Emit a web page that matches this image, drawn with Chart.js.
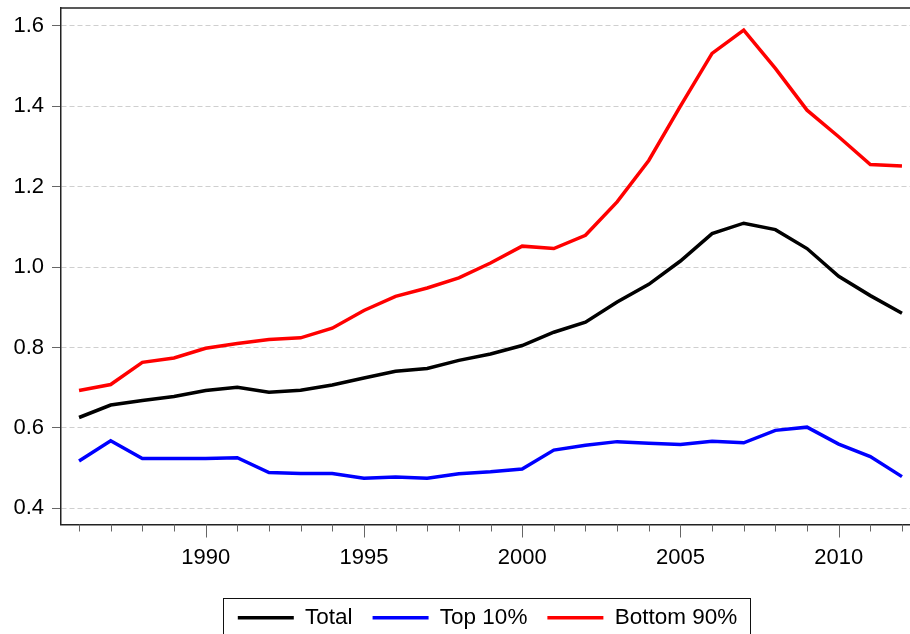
<!DOCTYPE html>
<html>
<head>
<meta charset="utf-8">
<script src="https://cdn.jsdelivr.net/npm/chart.js@4"></script>
<style>
  html, body { margin: 0; padding: 0; background: #fff; overflow: hidden; }
  #wrap { width: 910px; height: 634px; overflow: hidden; }
</style>
</head>
<body>
<div id="wrap"><canvas id="myChart" width="914" height="639"></canvas></div>
<script>
var years = [1986,1987,1988,1989,1990,1991,1992,1993,1994,1995,1996,1997,1998,1999,2000,2001,2002,2003,2004,2005,2006,2007,2008,2009,2010,2011,2012];
var total = [0.626,0.657,0.668,0.678,0.693,0.701,0.689,0.694,0.707,0.724,0.741,0.748,0.768,0.784,0.805,0.838,0.863,0.913,0.957,1.015,1.083,1.109,1.093,1.046,0.977,0.929,0.885];
var top10 = [0.518,0.568,0.524,0.524,0.524,0.526,0.489,0.487,0.487,0.475,0.478,0.475,0.486,0.491,0.498,0.545,0.557,0.566,0.562,0.559,0.567,0.563,0.594,0.602,0.560,0.529,0.479];
var bottom90 = [0.693,0.708,0.763,0.774,0.798,0.810,0.820,0.824,0.848,0.892,0.927,0.948,0.973,1.010,1.052,1.046,1.079,1.162,1.265,1.400,1.531,1.589,1.494,1.390,1.324,1.255,1.251];
var xTickLabels = [1990,1995,2000,2005,2010];
var yTickLabels = [0.4,0.6,0.8,1.0,1.2,1.4,1.6];

var FONT = "Arial, 'Liberation Sans', sans-serif";

function pts(vals) {
  return years.map(function(y, i) { return {x: y, y: vals[i]}; });
}

function line(label, vals, color) {
  return {
    label: label,
    data: pts(vals),
    borderColor: color,
    backgroundColor: color,
    borderWidth: 3.5,
    pointRadius: 0,
    tension: 0,
    fill: false
  };
}

// top border, year ticks and the legend frame
var extras = {
  id: 'extras',
  afterDraw: function(chart) {
    var c = chart.ctx, a = chart.chartArea, xs = chart.scales.x;
    c.save();
    c.strokeStyle = '#222';
    c.lineWidth = 1.5;
    c.beginPath();
    c.moveTo(a.left, a.top);
    c.lineTo(a.right, a.top);
    c.stroke();

    c.strokeStyle = '#666';
    c.lineWidth = 1;
    years.forEach(function(y) {
      var px = Math.round(xs.getPixelForValue(y)) + 0.5;
      var len = (y % 5 === 0) ? 13 : 7;
      c.beginPath();
      c.moveTo(px, a.bottom);
      c.lineTo(px, a.bottom + len);
      c.stroke();
    });

    var hb = chart.legend.legendHitBoxes;
    if (hb && hb.length) {
      var first = hb[0], last = hb[hb.length - 1];
      var l = first.left - 14.5, r = last.left + last.width + 13, t = first.top - 8.5;
      c.strokeStyle = '#111';
      c.lineWidth = 1;
      c.strokeRect(Math.round(l) + 0.5, Math.round(t) + 0.5, Math.round(r - l), chart.height);
    }
    c.restore();
  }
};

var ctx = document.getElementById('myChart').getContext('2d');

var myChart = new Chart(ctx, {
  type: 'line',
  data: {
    datasets: [
      line('Total', total, '#000000'),
      line('Top 10%', top10, '#0000ff'),
      line('Bottom 90%', bottom90, '#ff0000')
    ]
  },
  options: {
    responsive: false,
    animation: false,
    layout: { autoPadding: false, padding: { top: 8, left: 0, right: 0, bottom: 0 } },
    plugins: {
      tooltip: { enabled: false },
      legend: {
        position: 'bottom',
        fullSize: false,
        labels: {
          color: '#000',
          font: { family: FONT, size: 22.5 },
          boxWidth: 56,
          boxHeight: 3.5,
          padding: 20,
          generateLabels: function(chart) {
            return chart.data.datasets.map(function(ds, i) {
              return {
                text: ds.label,
                fillStyle: ds.borderColor,
                strokeStyle: ds.borderColor,
                lineWidth: 0,
                fontColor: '#000',
                datasetIndex: i
              };
            });
          }
        }
      }
    },
    scales: {
      x: {
        type: 'linear',
        min: 1985.43,
        max: 2012.38,
        afterBuildTicks: function(s) { s.ticks = xTickLabels.map(function(v) { return {value: v}; }); },
        afterFit: function(s) { s.height = 62; s.paddingLeft = 0; s.paddingRight = 0; },
        grid: { display: false, drawTicks: false },
        border: { display: true, color: '#222', width: 1.5 },
        ticks: {
          color: '#000',
          font: { family: FONT, size: 22 },
          padding: 20,
          maxRotation: 0,
          callback: function(v) { return String(v); }
        }
      },
      y: {
        min: 0.36,
        max: 1.644,
        afterBuildTicks: function(s) { s.ticks = yTickLabels.map(function(v) { return {value: v}; }); },
        afterFit: function(s) { s.width = 61; s.paddingTop = 0; s.paddingBottom = 0; },
        grid: {
          color: '#cfcfcf',
          lineWidth: 1,
          drawTicks: true,
          tickLength: 9,
          tickColor: '#666',
          tickBorderDash: []
        },
        border: { display: true, color: '#222', width: 1.5, dash: [5, 3] },
        ticks: {
          color: '#000',
          font: { family: FONT, size: 22 },
          padding: 8,
          callback: function(v) { return v.toFixed(1); }
        }
      }
    }
  },
  plugins: [extras]
});
</script>
</body>
</html>
